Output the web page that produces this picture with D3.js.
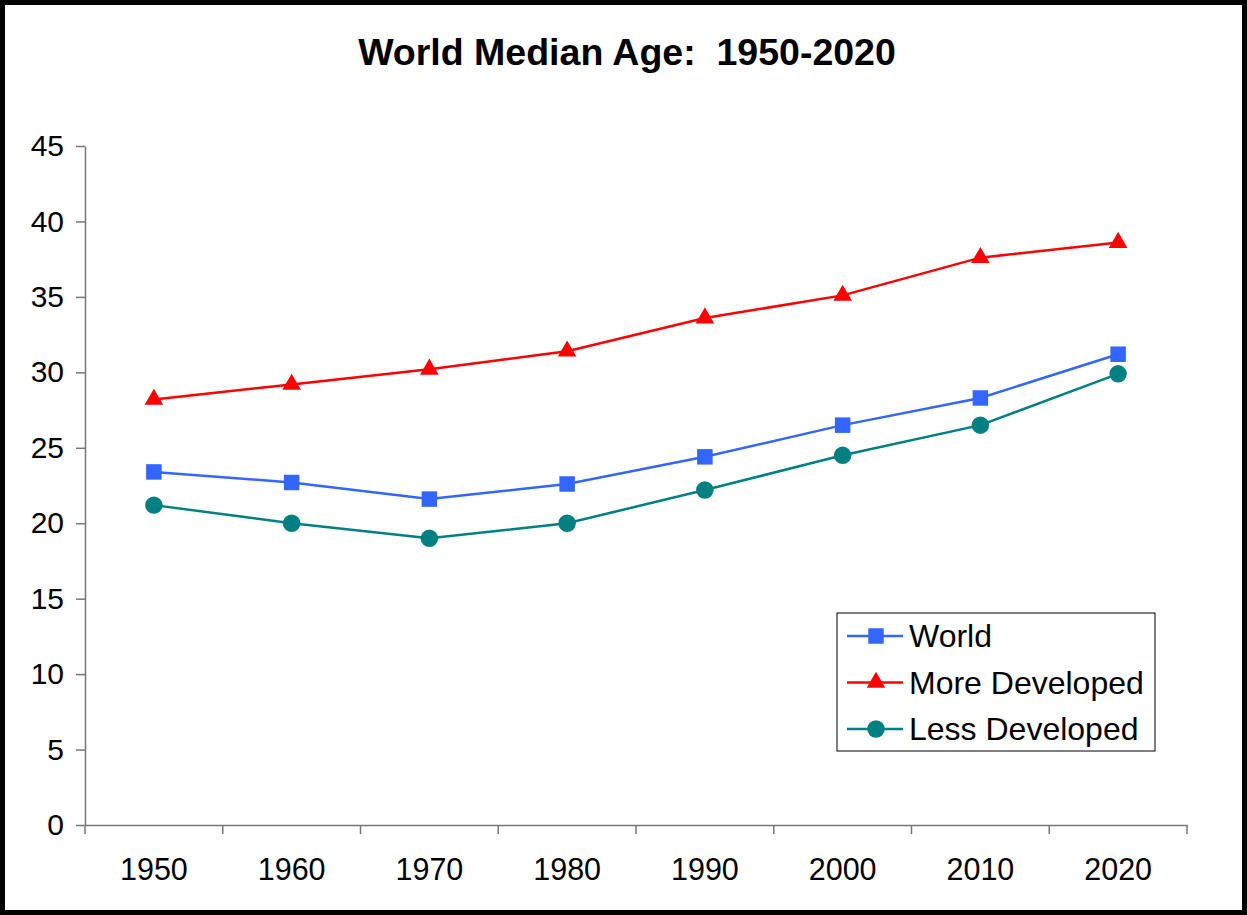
<!DOCTYPE html>
<html>
<head>
<meta charset="utf-8">
<script src="https://cdn.jsdelivr.net/npm/d3@7"></script>
<style>
  body { margin: 0; background: #fff; }
  svg { display: block; font-family: "Liberation Sans", Arial, sans-serif; }
</style>
</head>
<body>
<svg id="chart" width="1247" height="915"></svg>
<script>
// data
const years = ["1950", "1960", "1970", "1980", "1990", "2000", "2010", "2020"];
const world = [23.4, 22.7, 21.6, 22.6, 24.4, 26.5, 28.3, 31.2];
const moreDeveloped = [28.2, 29.2, 30.2, 31.4, 33.6, 35.1, 37.6, 38.6];
const lessDeveloped = [21.2, 20.0, 19.0, 20.0, 22.2, 24.5, 26.5, 29.9];
const yTicks = [0, 5, 10, 15, 20, 25, 30, 35, 40, 45];

const series = [
  { name: "World", values: world, color: "#3366ff", symbol: d3.symbolSquare },
  { name: "More Developed", values: moreDeveloped, color: "#ff0000", symbol: d3.symbolTriangle },
  { name: "Less Developed", values: lessDeveloped, color: "#008080", symbol: d3.symbolCircle }
];

const W = 1247, H = 915;
const margin = { left: 85, right: 60, top: 146, bottom: 90 };

const svg = d3.select("#chart");

// outer frame
svg.append("rect")
  .attr("x", 2.5).attr("y", 2.5)
  .attr("width", W - 5).attr("height", H - 5)
  .attr("fill", "#fff").attr("stroke", "#000").attr("stroke-width", 5);

svg.append("text")
  .attr("x", 627).attr("y", 65)
  .attr("text-anchor", "middle")
  .attr("font-size", 37.5).attr("font-weight", "bold")
  .attr("xml:space", "preserve")
  .text("World Median Age:  1950-2020");

const x = d3.scaleBand().domain(years).range([margin.left, W - margin.right]);
const y = d3.scaleLinear().domain([0, 45]).range([H - margin.bottom, margin.top]);

// y axis
const yAxis = svg.append("g")
  .attr("transform", `translate(${margin.left},0)`)
  .call(d3.axisLeft(y).tickValues(yTicks).tickSize(9).tickPadding(12).tickSizeOuter(0))
  .attr("font-family", null);
yAxis.select(".domain").attr("stroke", "#777").attr("stroke-width", 1.5);
yAxis.selectAll(".tick line").attr("stroke", "#777").attr("stroke-width", 1.5);
yAxis.selectAll(".tick text").attr("font-size", 30).attr("fill", "#000");

// x axis with ticks between categories
const xAxis = svg.append("g")
  .attr("transform", `translate(0,${y(0)})`)
  .call(d3.axisBottom(x).tickSize(0).tickPadding(33).tickSizeOuter(0))
  .attr("font-family", null);
xAxis.select(".domain").attr("stroke", "#777").attr("stroke-width", 1.5);
xAxis.selectAll(".tick text").attr("font-size", 30.5).attr("fill", "#000");
const bounds = years.map(d => x(d)).concat([x(years[years.length - 1]) + x.bandwidth()]);
xAxis.selectAll(".sep")
  .data(bounds)
  .enter().append("line")
  .attr("x1", d => d).attr("x2", d => d)
  .attr("y1", 0).attr("y2", 9)
  .attr("stroke", "#777").attr("stroke-width", 1.5);

const cx = (d, i) => x(years[i]) + x.bandwidth() / 2;
const line = d3.line().x(cx).y(d => y(d));

series.forEach(s => {
  svg.append("path")
    .datum(s.values)
    .attr("d", line)
    .attr("fill", "none")
    .attr("stroke", s.color)
    .attr("stroke-width", 2.5);
  svg.selectAll(null)
    .data(s.values)
    .enter().append("path")
    .attr("transform", (d, i) => `translate(${cx(d, i)},${y(d)})`)
    .attr("d", d3.symbol().type(s.symbol).size(s.symbol === d3.symbolTriangle ? 150 : 240))
    .attr("fill", s.color);
});

// legend
const lg = svg.append("g").attr("transform", "translate(837,613)");
lg.append("rect")
  .attr("width", 318).attr("height", 138)
  .attr("fill", "#fff").attr("stroke", "#000").attr("stroke-width", 1);
series.forEach((s, i) => {
  const row = lg.append("g").attr("transform", `translate(0,${23 + i * 46.5})`);
  row.append("line")
    .attr("x1", 10).attr("x2", 66)
    .attr("stroke", s.color).attr("stroke-width", 2.5);
  row.append("path")
    .attr("transform", "translate(39,0)")
    .attr("d", d3.symbol().type(s.symbol).size(s.symbol === d3.symbolTriangle ? 150 : 240))
    .attr("fill", s.color);
  row.append("text")
    .attr("x", 72).attr("y", 11)
    .attr("font-size", 32)
    .text(s.name);
});
</script>
</body>
</html>
